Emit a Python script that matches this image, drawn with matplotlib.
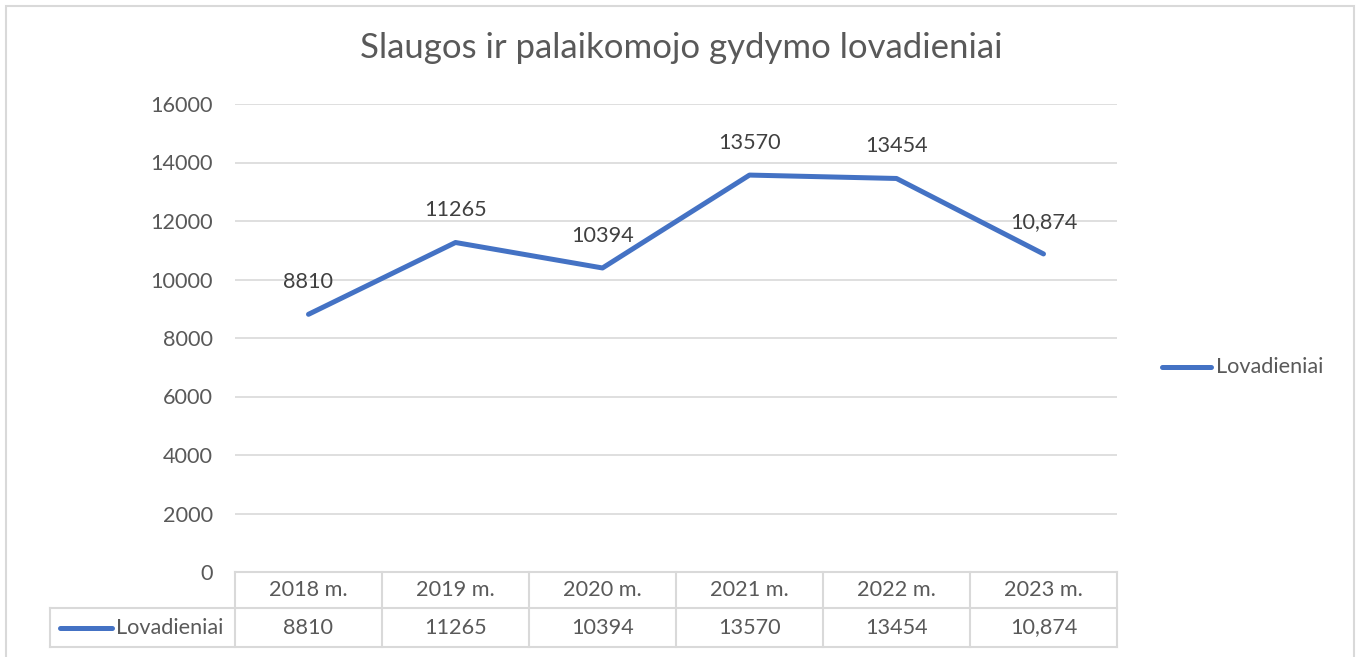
import matplotlib.pyplot as plt
from matplotlib.patches import Rectangle
from matplotlib.lines import Line2D

plt.rcParams['font.family'] = ['Lato', 'DejaVu Sans']

categories = ["2018 m.", "2019 m.", "2020 m.", "2021 m.", "2022 m.", "2023 m."]
values = [8810, 11265, 10394, 13570, 13454, 10874]
value_labels = ["8810", "11265", "10394", "13570", "13454", "10,874"]
series_name = "Lovadieniai"
title = "Slaugos ir palaikomojo gydymo lovadieniai"

W, H = 1362, 657
blue = "#4472C4"
grid = "#D9D9D9"
txt = "#595959"
fs = 15.6

fig = plt.figure(figsize=(W / 100, H / 100), dpi=100)


def fx(px):
    return px / W


def fy(py):
    return 1 - py / H


# chart border
fig.patches.append(Rectangle((fx(6), fy(700)), fx(1354) - fx(6), fy(6) - fy(700),
                             transform=fig.transFigure, fill=False,
                             edgecolor=grid, lw=1.5))

left, right, top, bottom = 235, 1117, 104, 572
ax = fig.add_axes([fx(left), fy(bottom), fx(right) - fx(left), fy(top) - fy(bottom)])
x = list(range(len(categories)))
ax.plot(x, values, color=blue, lw=3.6, solid_capstyle="round", solid_joinstyle="round",
        zorder=3)
for xi, v, lab in zip(x, values, value_labels):
    ax.annotate(lab, (xi, v), xytext=(0, 16), textcoords="offset points",
                ha="center", va="bottom", fontsize=fs, color="#404040")

ax.set_xlim(-0.5, len(categories) - 0.5)
ax.set_ylim(0, 16000)
ax.set_yticks(range(0, 16001, 2000))
ax.set_xticks([])
ax.grid(axis="y", color=grid, lw=1.2)
ax.set_axisbelow(True)
for s in ax.spines.values():
    s.set_visible(False)
ax.tick_params(axis="y", length=0, pad=16, labelsize=fs, labelcolor=txt)

fig.text(fx(681), fy(48), title, ha="center", va="center", fontsize=25, color=txt)

# legend on the right
fig.lines.append(Line2D([fx(1162), fx(1211)], [fy(367), fy(367)], transform=fig.transFigure,
                        color=blue, lw=3.6, solid_capstyle="round"))
fig.text(fx(1216), fy(367), series_name, ha="left", va="center", fontsize=fs, color=txt)

# data table
col_w = (right - left) / len(categories)
r0, r1, r2 = 572, 608, 647
tbl = dict(transform=fig.transFigure, color=grid, lw=1.5)
fig.lines.append(Line2D([fx(left), fx(right)], [fy(r0), fy(r0)], **tbl))
fig.lines.append(Line2D([fx(50), fx(right)], [fy(r1), fy(r1)], **tbl))
fig.lines.append(Line2D([fx(50), fx(right)], [fy(r2), fy(r2)], **tbl))
fig.lines.append(Line2D([fx(50), fx(50)], [fy(r1), fy(r2)], **tbl))
for i in range(len(categories) + 1):
    xp = left + i * col_w
    fig.lines.append(Line2D([fx(xp), fx(xp)], [fy(r0), fy(r2)], **tbl))
for i, (c, lab) in enumerate(zip(categories, value_labels)):
    cx = left + (i + 0.5) * col_w
    fig.text(fx(cx), fy((r0 + r1) / 2), c, ha="center", va="center", fontsize=fs, color=txt)
    fig.text(fx(cx), fy((r1 + r2) / 2), lab, ha="center", va="center", fontsize=fs, color=txt)
fig.lines.append(Line2D([fx(60), fx(112)], [fy(628), fy(628)], transform=fig.transFigure,
                        color=blue, lw=3.6, solid_capstyle="round"))
fig.text(fx(116), fy(628), series_name, ha="left", va="center", fontsize=fs, color=txt)

fig.savefig("out.png", dpi=100, facecolor="white")
